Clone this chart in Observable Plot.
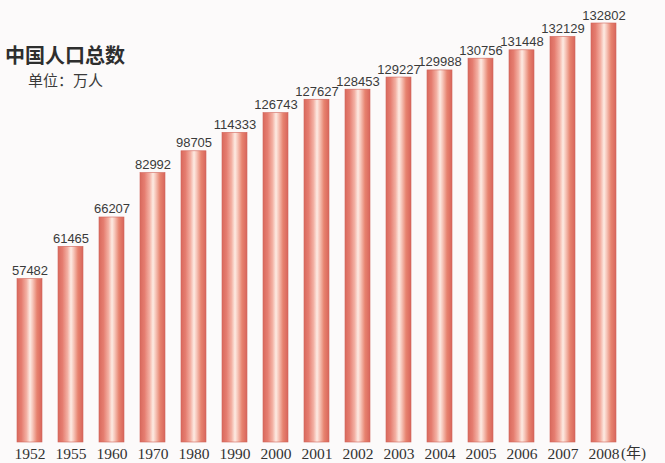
<!DOCTYPE html>
<html>
<head>
<meta charset="utf-8">
<script src="https://cdn.jsdelivr.net/npm/d3@7"></script>
<script src="https://cdn.jsdelivr.net/npm/@observablehq/plot@0.6"></script>
<style>
  html, body { margin: 0; padding: 0; background: #fcfafa; }
  #wrap { position: relative; width: 665px; height: 463px; }
  #title { position: absolute; left: 5px; top: 45px; font-family: "Noto Sans CJK SC", sans-serif; font-weight: 700; font-size: 20px; line-height: 20px; color: #2e2e2e; }
  #subtitle { position: absolute; left: 28px; top: 72px; font-family: "Noto Sans CJK SC", sans-serif; font-size: 15px; line-height: 15px; color: #3a3a3a; }
</style>
</head>
<body>
<div id="wrap">
  <div id="chart"></div>
  <div id="title">中国人口总数</div>
  <div id="subtitle">单位：万人</div>
</div>
<script>
const years = ["1952","1955","1960","1970","1980","1990","2000","2001","2002","2003","2004","2005","2006","2007","2008"];
const population = [57482, 61465, 66207, 82992, 98705, 114333, 126743, 127627, 128453, 129227, 129988, 130756, 131448, 132129, 132802];
// bar length as drawn in the (illustrative, not to scale) picture, as % of the tallest bar
const drawnHeight = [39.0, 46.7, 53.7, 64.3, 69.5, 73.9, 78.6, 81.8, 84.2, 87.1, 88.8, 91.6, 93.6, 96.8, 100];
const unitLabel = "(年)";

const data = years.map((y, i) => ({year: y, value: population[i], drawn: drawnHeight[i]}));

const chart = Plot.plot({
  width: 665,
  height: 463,
  marginLeft: 0,
  marginRight: 32,
  marginTop: 23,
  marginBottom: 21,
  style: {background: "transparent", overflow: "visible"},
  x: {domain: years, paddingInner: 0.385, paddingOuter: 0.31, axis: null},
  y: {domain: [0, 100], axis: null},
  marks: [
    Plot.barY(data, {x: "year", y: "drawn", fill: "url(#barGrad)", stroke: "#d0645a", strokeWidth: 0.6}),
    Plot.text(data, {x: "year", y: "drawn", text: d => String(d.value), dy: -4, lineAnchor: "bottom", fontSize: 13, fontFamily: "Liberation Sans, Arial, sans-serif", fill: "#3a3a3a"}),
    Plot.axisX({domain: years, tickSize: 0, tickPadding: 5, fontSize: 15.5, fontFamily: "Liberation Serif, Times New Roman, serif", color: "#333", label: null}),
    Plot.text([years[years.length - 1]], {x: d => d, frameAnchor: "bottom", text: () => unitLabel, textAnchor: "start", dx: 17, dy: 5, lineAnchor: "top", fontSize: 15, fontFamily: "Liberation Serif, Noto Sans CJK SC, serif", fill: "#333", letterSpacing: "1.5px"})
  ]
});

const svg = d3.select(chart);
const defs = svg.insert("defs", ":first-child");
const g = defs.append("linearGradient").attr("id", "barGrad").attr("x1", "0").attr("x2", "1").attr("y1", "0").attr("y2", "0");
[
  [0, "#d9695d"], [0.18, "#e57d70"], [0.38, "#f3b0a3"], [0.52, "#fdebe3"], [0.62, "#f7c8bc"], [0.8, "#e7836f"], [1, "#d8655b"]
].forEach(([o, c]) => g.append("stop").attr("offset", o).attr("stop-color", c));

document.getElementById("chart").appendChild(chart);
</script>
</body>
</html>
